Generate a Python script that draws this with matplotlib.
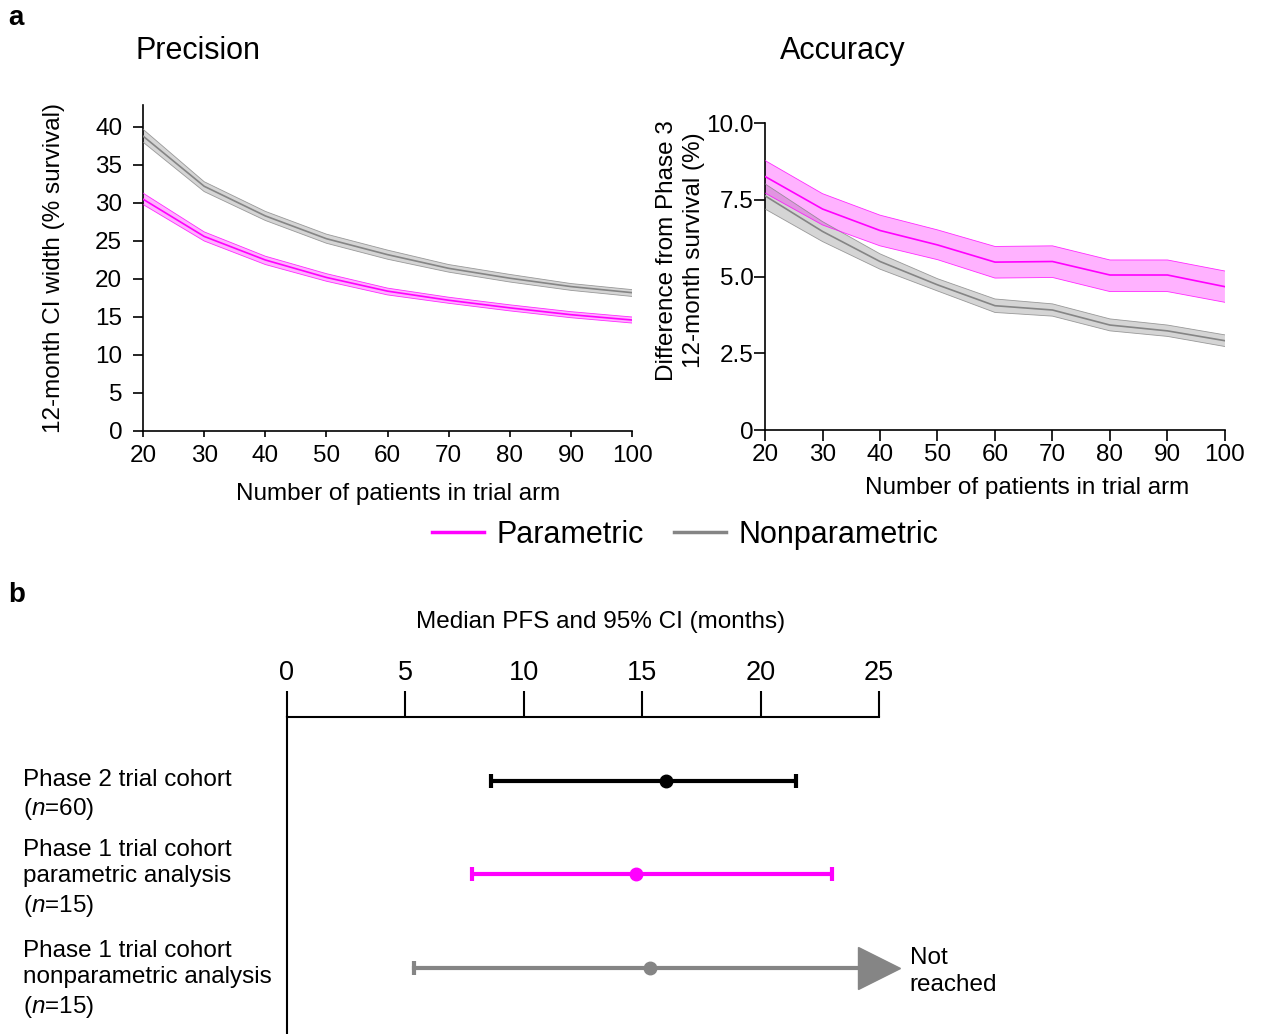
import numpy as np
import matplotlib
matplotlib.use('Agg')
import matplotlib.pyplot as plt
from matplotlib.lines import Line2D
import matplotlib.transforms as mtransforms

plt.rcParams['font.family'] = ['Liberation Sans', 'DejaVu Sans']
plt.rcParams['mathtext.fontset'] = 'custom'
plt.rcParams['mathtext.it'] = 'Liberation Sans:italic'
plt.rcParams['mathtext.rm'] = 'Liberation Sans'

PINK = '#FF00FF'
GRAY = '#858585'

# Panel a data
n_patients = [20, 30, 40, 50, 60, 70, 80, 90, 100]

prec_param = [30.5, 25.6, 22.5, 20.2, 18.4, 17.2, 16.2, 15.3, 14.6]
prec_param_lo = [29.8, 25.0, 21.9, 19.7, 17.9, 16.8, 15.8, 14.9, 14.2]
prec_param_hi = [31.3, 26.2, 23.0, 20.7, 18.8, 17.6, 16.6, 15.7, 15.0]
prec_nonpar = [38.8, 32.2, 28.3, 25.3, 23.2, 21.4, 20.1, 19.0, 18.2]
prec_nonpar_lo = [38.0, 31.5, 27.7, 24.7, 22.6, 20.9, 19.6, 18.5, 17.7]
prec_nonpar_hi = [39.7, 32.8, 28.9, 25.9, 23.8, 21.9, 20.6, 19.4, 18.6]

acc_param = [8.26, 7.20, 6.50, 6.03, 5.47, 5.49, 5.05, 5.05, 4.67]
acc_param_lo = [7.72, 6.68, 6.00, 5.55, 4.95, 4.97, 4.51, 4.51, 4.16]
acc_param_hi = [8.78, 7.70, 7.00, 6.52, 5.98, 6.00, 5.54, 5.54, 5.18]
acc_nonpar = [7.63, 6.47, 5.49, 4.73, 4.05, 3.91, 3.42, 3.23, 2.91]
acc_nonpar_lo = [7.20, 6.14, 5.24, 4.53, 3.83, 3.71, 3.23, 3.05, 2.72]
acc_nonpar_hi = [8.02, 6.79, 5.74, 4.93, 4.27, 4.11, 3.62, 3.42, 3.10]

# Panel b data
cohorts = ['Phase 2 trial cohort\n($n$=60)',
           'Phase 1 trial cohort\nparametric analysis\n($n$=15)',
           'Phase 1 trial cohort\nnonparametric analysis\n($n$=15)']
pfs_median = [16.0, 14.75, 15.35]
pfs_lo = [8.6, 7.8, 5.35]
pfs_hi = [21.5, 23.0, None]  # None = not reached
pfs_colors = ['black', PINK, GRAY]

fig = plt.figure(figsize=(12.67, 10.34), dpi=100)


def band(ax, y, lo, hi, color, fill):
    ax.fill_between(n_patients, lo, hi, facecolor=fill, edgecolor='none', zorder=2)
    ax.plot(n_patients, lo, color=color, lw=0.6, alpha=0.8, zorder=3)
    ax.plot(n_patients, hi, color=color, lw=0.6, alpha=0.8, zorder=3)
    ax.plot(n_patients, y, color=color, lw=1.2, zorder=4)


def style(ax):
    for s in ['top', 'right']:
        ax.spines[s].set_visible(False)
    for s in ['left', 'bottom']:
        ax.spines[s].set_linewidth(1.2)
    ax.set_xlim(20, 100)
    ax.set_xticks(n_patients)
    ax.tick_params(labelsize=17.5, width=1.2)


# Precision
ax1 = fig.add_axes([0.1129, 0.5832, 0.386, 0.3153])
band(ax1, prec_nonpar, prec_nonpar_lo, prec_nonpar_hi, GRAY, (0.7, 0.7, 0.7, 0.55))
band(ax1, prec_param, prec_param_lo, prec_param_hi, PINK, (1.0, 0.0, 1.0, 0.3))
style(ax1)
ax1.set_ylim(0, 42.9)
ax1.set_yticks(range(0, 41, 5))
ax1.tick_params(axis='y', length=7, pad=8)
ax1.tick_params(axis='x', length=4, pad=6)
ax1.set_ylabel('12-month CI width (% survival)', fontsize=17.5, labelpad=22)
ax1.set_xlabel('Number of patients in trial arm', fontsize=17.5)
ax1.xaxis.set_label_coords(0.522, -0.16)

# Accuracy
ax2 = fig.add_axes([0.6038, 0.5841, 0.363, 0.2969])
band(ax2, acc_nonpar, acc_nonpar_lo, acc_nonpar_hi, GRAY, (0.7, 0.7, 0.7, 0.55))
band(ax2, acc_param, acc_param_lo, acc_param_hi, PINK, (1.0, 0.0, 1.0, 0.3))
style(ax2)
ax2.set_ylim(0, 10)
ax2.set_yticks([0, 2.5, 5, 7.5, 10])
ax2.set_yticklabels(['0', '2.5', '5.0', '7.5', '10.0'])
ax2.tick_params(axis='y', length=8, pad=0)
ax2.tick_params(axis='x', length=8, pad=2)
ax2.set_ylabel('Difference from Phase 3\n12-month survival (%)', fontsize=17.5,
               linespacing=1.3)
ax2.yaxis.set_label_coords(-0.13, 0.585)
ax2.set_xlabel('Number of patients in trial arm', fontsize=17.5)
ax2.xaxis.set_label_coords(0.57, -0.152)

fig.text(135 / 1267, 1 - 51 / 1034, 'Precision', fontsize=22, ha='left', va='center')
fig.text(780 / 1267, 1 - 51 / 1034, 'Accuracy', fontsize=22, ha='left', va='center')
fig.text(8 / 1267, 1 - 18 / 1034, 'a', fontsize=20, fontweight='bold', ha='left', va='center')
fig.text(8 / 1267, 1 - 595 / 1034, 'b', fontsize=20, fontweight='bold', ha='left', va='center')

handles = [Line2D([], [], color=PINK, lw=2.5), Line2D([], [], color=GRAY, lw=2.5)]
fig.legend(handles, ['Parametric', 'Nonparametric'], loc='center',
           bbox_to_anchor=(685 / 1267, 1 - 535 / 1034), ncol=2, frameon=False,
           fontsize=22, handlelength=1.7, handletextpad=0.4, columnspacing=1.0)

# Panel b forest plot
ax3 = fig.add_axes([0.2265, 0.0, 0.4672, 0.3066])
rows = [1, 2, 3]
ax3.set_xlim(0, 25)
ax3.set_ylim(3.71, 0.32)
for r, med, lo, hi, c in zip(rows, pfs_median, pfs_lo, pfs_hi, pfs_colors):
    if hi is not None:
        ax3.errorbar([med], [r], xerr=[[med - lo], [hi - med]], fmt='o', color=c,
                     ms=9, lw=3, capsize=5, capthick=3, zorder=3)
    else:
        xmax = ax3.get_xlim()[1]
        ax3.plot([lo, xmax], [r, r], color=c, lw=3, zorder=2)
        ax3.plot([lo], [r], marker='|', ms=10, mew=3, color=c, zorder=3)
        ax3.plot([med], [r], marker='o', ms=9, color=c, zorder=3)
        ax3.plot([xmax], [r], marker='>', ms=30, color=c, clip_on=False, zorder=3)
        ax3.text(26.3, r + 0.04, 'Not\nreached', fontsize=17.5, ha='left', va='center',
                 linespacing=1.27)

trans = mtransforms.blended_transform_factory(ax3.transAxes, ax3.transData)
label_offsets = [0.16, 0.05, 0.13]
for r, lab, off in zip(rows, cohorts, label_offsets):
    ax3.text(-0.446, r + off, lab, transform=trans, fontsize=17.5, ha='left',
             va='center', linespacing=1.27)

ax3.spines['bottom'].set_visible(False)
ax3.spines['right'].set_visible(False)
ax3.spines['top'].set_linewidth(1.5)
ax3.spines['left'].set_linewidth(1.5)
ax3.xaxis.tick_top()
ax3.xaxis.set_label_position('top')
ax3.set_xticks([0, 5, 10, 15, 20, 25])
ax3.tick_params(axis='x', length=19, width=1.5, labelsize=19.5, pad=3)
ax3.set_yticks([])
ax3.set_xlabel('Median PFS and 95% CI (months)', fontsize=17.5)
ax3.xaxis.set_label_coords(0.529, 1.28)

fig.savefig('out.png', dpi=100)
